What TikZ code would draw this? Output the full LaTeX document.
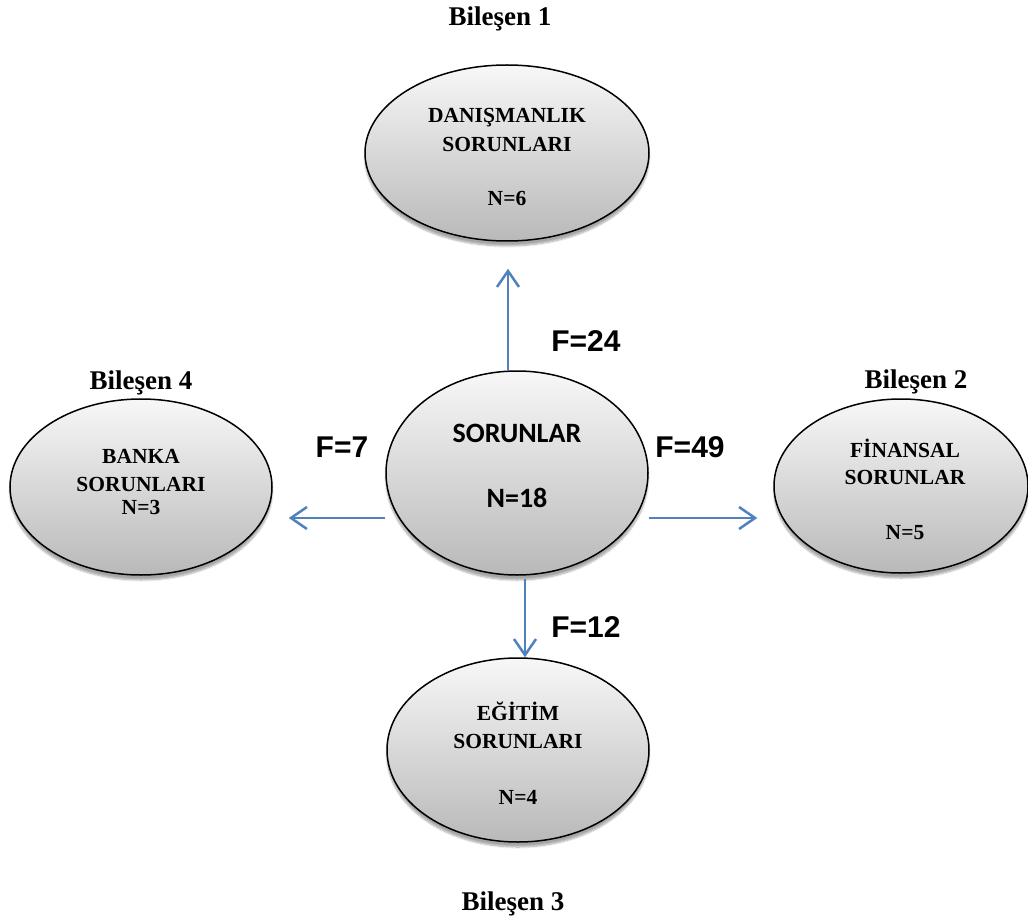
\documentclass[tikz,border=0pt]{standalone}
\usepackage{fontspec}
\setmainfont{Liberation Serif}
\newfontfamily\arialf{Liberation Sans}
\newfontfamily\calib{Carlito}
\usetikzlibrary{shapes.geometric,arrows.meta,shadows.blur}
\definecolor{arrblue}{HTML}{4F81BD}
\tikzset{
  oval/.style={ellipse, draw=black, line width=1.5pt, inner sep=0pt,
    top color=gray!6, bottom color=gray!55,
    blur shadow={shadow xshift=0pt, shadow yshift=-5pt, shadow blur steps=8, shadow opacity=35}},
  intext/.style={anchor=base, inner sep=0pt, font=\fontsize{21.5}{25}\selectfont\bfseries},
  comp/.style={anchor=base, inner sep=0pt, font=\fontsize{27}{30}\selectfont\bfseries},
  flabel/.style={anchor=base, inner sep=0pt, font=\arialf\fontsize{30}{34}\selectfont\bfseries},
  ctext/.style={anchor=base, inner sep=0pt, font=\calib\fontsize{28}{32}\selectfont\bfseries},
  arr/.style={draw=arrblue, line width=2.5pt, -{Straight Barb[length=16pt,width=22pt]}}
}
\begin{document}
\begin{tikzpicture}[x=1pt,y=-1pt]
\useasboundingbox (0,0) rectangle (1028,917);
% ellipses
\node[oval, minimum width=284pt, minimum height=176pt] (t) at (507,153) {};
\node[oval, minimum width=262pt, minimum height=176pt] (b) at (141,487) {};
\node[oval, minimum width=254pt, minimum height=174pt] (r) at (901,486) {};
\node[oval, minimum width=262pt, minimum height=184pt] (e) at (518,750) {};
\node[oval, minimum width=262pt, minimum height=204pt] (c) at (517,473) {};
% texts in ellipses
\node[intext] (t1) at (507,123) {DANIŞMANLIK};
\node[intext] (t2) at (507,152) {SORUNLARI};
\node[intext] (t3) at (507,206) {N=6};
\node[intext] (b1) at (141,463) {BANKA};
\node[intext] (b2) at (141,491) {SORUNLARI};
\node[intext] (b3) at (141,514) {N=3};
\node[intext] (r1) at (905,457) {FİNANSAL};
\node[intext] (r2) at (905,484) {SORUNLAR};
\node[intext] (r3) at (905,539) {N=5};
\node[intext] (e1) at (518,720) {EĞİTİM};
\node[intext] (e2) at (518,748) {SORUNLARI};
\node[intext] (e3) at (518,804) {N=4};
\node[ctext] (c1) at (517,442) {SORUNLAR};
\node[ctext] (c2) at (517,507) {N=18};
% component labels
\node[comp] (l1) at (500,26) {Bileşen 1};
\node[comp] (l4) at (141,389) {Bileşen 4};
\node[comp] (l2) at (916,388) {Bileşen 2};
\node[comp] (l3) at (513,910) {Bileşen 3};
% F labels
\node[flabel] (f24) at (586,352) {F=24};
\node[flabel] (f7) at (342,457) {F=7};
\node[flabel] (f49) at (690,457) {F=49};
\node[flabel] (f12) at (586,637) {F=12};
% arrows
\draw[arr] ([xshift=-9pt]c.north) -- ([xshift=1pt,yshift=-27pt]t.south);
\draw[arr] ([yshift=-45pt]c.west) -- ([xshift=16pt,yshift=-31pt]b.east);
\draw[arr] ([yshift=-45pt]c.east) -- ([xshift=-16pt,yshift=-32pt]r.west);
\draw[arr] ([xshift=8pt,yshift=-3pt]c.south) -- ([xshift=7pt]e.north);
\end{tikzpicture}
\end{document}
